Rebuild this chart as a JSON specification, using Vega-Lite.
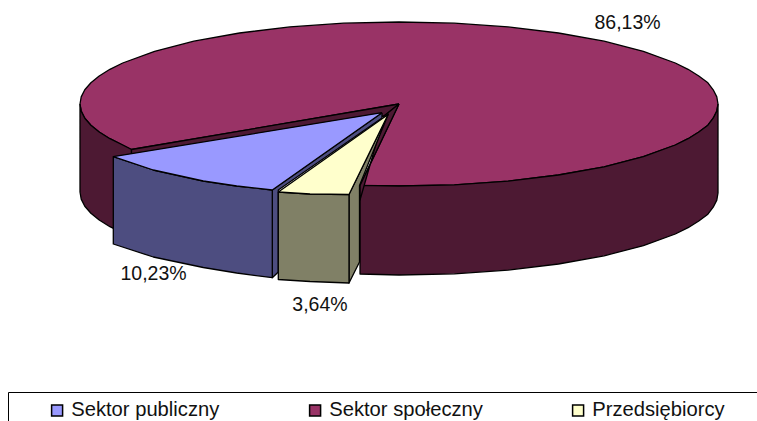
{"$schema":"https://vega.github.io/schema/vega-lite/v6.json","width":757,"height":421,"padding":0,"autosize":{"type":"none"},"background":"white","view":{"stroke":null},"config":{"font":"Liberation Sans"},
"datasets":{"faces":[
{"f":"Sektor społeczny","n":0,"x":399,"y":104},{"f":"Sektor społeczny","n":1,"x":131.5,"y":149.5},{"f":"Sektor społeczny","n":2,"x":122.7,"y":145},{"f":"Sektor społeczny","n":2.5,"x":109.9,"y":138.7},{"f":"Sektor społeczny","n":3,"x":99.2,"y":132},{"f":"Sektor społeczny","n":3.5,"x":90.9,"y":125.2},{"f":"Sektor społeczny","n":4,"x":84.8,"y":118.2},{"f":"Sektor społeczny","n":4.5,"x":81.2,"y":111.1},{"f":"Sektor społeczny","n":5,"x":80,"y":104},{"f":"Sektor społeczny","n":5.5,"x":81.2,"y":96.9},{"f":"Sektor społeczny","n":6,"x":84.8,"y":89.8},{"f":"Sektor społeczny","n":6.5,"x":90.9,"y":82.8},{"f":"Sektor społeczny","n":7,"x":99.2,"y":76},{"f":"Sektor społeczny","n":7.5,"x":109.9,"y":69.3},{"f":"Sektor społeczny","n":8,"x":122.7,"y":63},{"f":"Sektor społeczny","n":9,"x":154.6,"y":51.3},{"f":"Sektor społeczny","n":10,"x":193.9,"y":41.2},{"f":"Sektor społeczny","n":11,"x":239.5,"y":33},{"f":"Sektor społeczny","n":12,"x":289.9,"y":26.9},{"f":"Sektor społeczny","n":13,"x":343.6,"y":23.2},{"f":"Sektor społeczny","n":14,"x":399,"y":22},{"f":"Sektor społeczny","n":15,"x":454.4,"y":23.2},{"f":"Sektor społeczny","n":16,"x":508.1,"y":26.9},{"f":"Sektor społeczny","n":17,"x":558.5,"y":33},{"f":"Sektor społeczny","n":18,"x":604.1,"y":41.2},{"f":"Sektor społeczny","n":19,"x":643.4,"y":51.3},{"f":"Sektor społeczny","n":20,"x":675.3,"y":63},{"f":"Sektor społeczny","n":20.5,"x":688.1,"y":69.3},{"f":"Sektor społeczny","n":21,"x":698.8,"y":76},{"f":"Sektor społeczny","n":21.5,"x":707.9,"y":82.8},{"f":"Sektor społeczny","n":22,"x":713.2,"y":89.8},{"f":"Sektor społeczny","n":22.5,"x":716.8,"y":96.9},{"f":"Sektor społeczny","n":23,"x":718,"y":104},{"f":"Sektor społeczny","n":23.5,"x":716.8,"y":111.1},{"f":"Sektor społeczny","n":24,"x":713.2,"y":118.2},{"f":"Sektor społeczny","n":24.5,"x":707.9,"y":125.2},{"f":"Sektor społeczny","n":25,"x":698.8,"y":132},{"f":"Sektor społeczny","n":25.5,"x":688.1,"y":138.7},{"f":"Sektor społeczny","n":26,"x":675.3,"y":145},{"f":"Sektor społeczny","n":27,"x":643.4,"y":156.7},{"f":"Sektor społeczny","n":28,"x":604.1,"y":166.8},{"f":"Sektor społeczny","n":29,"x":558.5,"y":175},{"f":"Sektor społeczny","n":30,"x":508.1,"y":181.1},{"f":"Sektor społeczny","n":31,"x":454.4,"y":184.8},{"f":"Sektor społeczny","n":32,"x":399,"y":186},{"f":"Sektor społeczny","n":33,"x":360,"y":185.4},{"f":"Sektor społeczny","n":34,"x":399,"y":104},
{"f":"Społeczny bok prawy","n":0,"x":718,"y":104},{"f":"Społeczny bok prawy","n":0.5,"x":716.8,"y":111.1},{"f":"Społeczny bok prawy","n":1,"x":713.2,"y":118.2},{"f":"Społeczny bok prawy","n":1.5,"x":707.9,"y":125.2},{"f":"Społeczny bok prawy","n":2,"x":698.8,"y":132},{"f":"Społeczny bok prawy","n":2.5,"x":688.1,"y":138.7},{"f":"Społeczny bok prawy","n":3,"x":675.3,"y":145},{"f":"Społeczny bok prawy","n":4,"x":643.4,"y":156.7},{"f":"Społeczny bok prawy","n":5,"x":604.1,"y":166.8},{"f":"Społeczny bok prawy","n":6,"x":558.5,"y":175},{"f":"Społeczny bok prawy","n":7,"x":508.1,"y":181.1},{"f":"Społeczny bok prawy","n":8,"x":454.4,"y":184.8},{"f":"Społeczny bok prawy","n":9,"x":399,"y":186},{"f":"Społeczny bok prawy","n":10,"x":360,"y":185.4},{"f":"Społeczny bok prawy","n":11,"x":360,"y":274},{"f":"Społeczny bok prawy","n":12,"x":399,"y":275},{"f":"Społeczny bok prawy","n":13,"x":454.4,"y":273.8},{"f":"Społeczny bok prawy","n":14,"x":508.1,"y":270.1},{"f":"Społeczny bok prawy","n":15,"x":558.5,"y":264},{"f":"Społeczny bok prawy","n":16,"x":604.1,"y":255.8},{"f":"Społeczny bok prawy","n":17,"x":643.4,"y":245.7},{"f":"Społeczny bok prawy","n":18,"x":675.3,"y":234},{"f":"Społeczny bok prawy","n":18.5,"x":688.1,"y":227.7},{"f":"Społeczny bok prawy","n":19,"x":698.8,"y":221},{"f":"Społeczny bok prawy","n":19.5,"x":707.9,"y":214.2},{"f":"Społeczny bok prawy","n":20,"x":713.2,"y":207.2},{"f":"Społeczny bok prawy","n":20.5,"x":716.8,"y":200.1},{"f":"Społeczny bok prawy","n":21,"x":718,"y":193},{"f":"Społeczny bok prawy","n":22,"x":718,"y":104},
{"f":"Społeczny bok lewy","n":0,"x":80,"y":104},{"f":"Społeczny bok lewy","n":0.5,"x":81.2,"y":111.1},{"f":"Społeczny bok lewy","n":1,"x":84.8,"y":118.2},{"f":"Społeczny bok lewy","n":1.5,"x":90.9,"y":125.2},{"f":"Społeczny bok lewy","n":2,"x":99.2,"y":132},{"f":"Społeczny bok lewy","n":2.5,"x":109.9,"y":138.7},{"f":"Społeczny bok lewy","n":3,"x":122.7,"y":145},{"f":"Społeczny bok lewy","n":4,"x":131.5,"y":149.5},{"f":"Społeczny bok lewy","n":5,"x":131.5,"y":240},{"f":"Społeczny bok lewy","n":6,"x":122.7,"y":233},{"f":"Społeczny bok lewy","n":6.5,"x":109.9,"y":226.7},{"f":"Społeczny bok lewy","n":7,"x":99.2,"y":220},{"f":"Społeczny bok lewy","n":7.5,"x":90.9,"y":213.2},{"f":"Społeczny bok lewy","n":8,"x":84.8,"y":206.2},{"f":"Społeczny bok lewy","n":8.5,"x":81.2,"y":199.1},{"f":"Społeczny bok lewy","n":9,"x":80,"y":192},{"f":"Społeczny bok lewy","n":10,"x":80,"y":104},
{"f":"Społeczny ścianka górna","n":0,"x":399,"y":104},{"f":"Społeczny ścianka górna","n":1,"x":131.5,"y":149.5},{"f":"Społeczny ścianka górna","n":2,"x":131.5,"y":160},{"f":"Społeczny ścianka górna","n":3,"x":384,"y":116},{"f":"Społeczny ścianka górna","n":4,"x":399,"y":104},
{"f":"Społeczny ścianka dolna","n":0,"x":399,"y":104},{"f":"Społeczny ścianka dolna","n":1,"x":360,"y":185.4},{"f":"Społeczny ścianka dolna","n":2,"x":360,"y":200},{"f":"Społeczny ścianka dolna","n":3,"x":384,"y":116},{"f":"Społeczny ścianka dolna","n":4,"x":399,"y":104},
{"f":"Publiczny ścianka","n":0,"x":382,"y":112.7},{"f":"Publiczny ścianka","n":1,"x":272.3,"y":190},{"f":"Publiczny ścianka","n":2,"x":272.3,"y":277.7},{"f":"Publiczny ścianka","n":3,"x":278.3,"y":272},{"f":"Publiczny ścianka","n":4,"x":278.3,"y":190},{"f":"Publiczny ścianka","n":5,"x":382,"y":118},{"f":"Publiczny ścianka","n":6,"x":382,"y":112.7},
{"f":"Publiczny bok","n":0,"x":113.3,"y":156.7},{"f":"Publiczny bok","n":1,"x":153.3,"y":170},{"f":"Publiczny bok","n":2,"x":203.3,"y":181},{"f":"Publiczny bok","n":3,"x":236.7,"y":186},{"f":"Publiczny bok","n":4,"x":272.3,"y":190},{"f":"Publiczny bok","n":5,"x":272.3,"y":277.7},{"f":"Publiczny bok","n":6,"x":236.7,"y":273},{"f":"Publiczny bok","n":7,"x":203.3,"y":267.5},{"f":"Publiczny bok","n":8,"x":153.3,"y":257},{"f":"Publiczny bok","n":9,"x":113.3,"y":244},{"f":"Publiczny bok","n":10,"x":113.3,"y":156.7},
{"f":"Sektor publiczny","n":0,"x":382,"y":112.7},{"f":"Sektor publiczny","n":1,"x":113.3,"y":156.7},{"f":"Sektor publiczny","n":2,"x":153.3,"y":170},{"f":"Sektor publiczny","n":3,"x":203.3,"y":181},{"f":"Sektor publiczny","n":4,"x":236.7,"y":186},{"f":"Sektor publiczny","n":5,"x":272.3,"y":190},{"f":"Sektor publiczny","n":6,"x":382,"y":112.7},
{"f":"Przedsiębiorcy ścianka","n":0,"x":388.3,"y":114},{"f":"Przedsiębiorcy ścianka","n":1,"x":349,"y":194.5},{"f":"Przedsiębiorcy ścianka","n":2,"x":349,"y":283},{"f":"Przedsiębiorcy ścianka","n":3,"x":359.5,"y":262},{"f":"Przedsiębiorcy ścianka","n":4,"x":359.5,"y":185.4},{"f":"Przedsiębiorcy ścianka","n":5,"x":388.3,"y":114},
{"f":"Przedsiębiorcy bok","n":0,"x":278.3,"y":192},{"f":"Przedsiębiorcy bok","n":1,"x":310,"y":194},{"f":"Przedsiębiorcy bok","n":2,"x":349,"y":194.5},{"f":"Przedsiębiorcy bok","n":3,"x":349,"y":283},{"f":"Przedsiębiorcy bok","n":4,"x":310,"y":281.5},{"f":"Przedsiębiorcy bok","n":5,"x":278.3,"y":279.5},{"f":"Przedsiębiorcy bok","n":6,"x":278.3,"y":192},
{"f":"Przedsiębiorcy","n":0,"x":386,"y":116},{"f":"Przedsiębiorcy","n":1,"x":278.3,"y":192},{"f":"Przedsiębiorcy","n":2,"x":310,"y":194},{"f":"Przedsiębiorcy","n":3,"x":349,"y":194.5},{"f":"Przedsiębiorcy","n":4,"x":388.3,"y":114},{"f":"Przedsiębiorcy","n":5,"x":386,"y":116}
],
"labels":[{"t":"86,13%","share":86.13,"x":627.5,"y":23},{"t":"10,23%","share":10.23,"x":153.5,"y":274},{"t":"3,64%","share":3.64,"x":320,"y":305}],
"frame":[{"x":8.5,"x2":757,"y":392.5,"y2":392.5},{"x":8.5,"x2":8.5,"y":392.5,"y2":421}]},
"layer":[
{"data":{"name":"frame"},"mark":{"type":"rule","color":"black","strokeWidth":1},
"encoding":{"x":{"field":"x","type":"quantitative","scale":{"domain":[0,757],"nice":false,"zero":false},"axis":null},"x2":{"field":"x2"},
"y":{"field":"y","type":"quantitative","scale":{"domain":[421,0],"nice":false,"zero":false},"axis":null},"y2":{"field":"y2"}}},
{"data":{"name":"faces"},"mark":{"type":"line","filled":true,"stroke":"black","strokeWidth":1.3,"strokeJoin":"round"},
"encoding":{"x":{"field":"x","type":"quantitative"},
"y":{"field":"y","type":"quantitative"},
"order":{"field":"n","type":"quantitative"},
"fill":{"field":"f","type":"nominal","scale":{"domain":["Sektor publiczny","Sektor społeczny","Przedsiębiorcy","Społeczny bok prawy","Społeczny bok lewy","Społeczny ścianka górna","Społeczny ścianka dolna","Publiczny ścianka","Publiczny bok","Przedsiębiorcy ścianka","Przedsiębiorcy bok"],"range":["#9999FF","#993366","#FFFFCC","#4D1933","#4D1933","#4D1933","#4D1933","#4D4D80","#4D4D80","#808066","#808066"]},
"legend":{"values":["Sektor publiczny","Sektor społeczny","Przedsiębiorcy"],"orient":"none","legendX":47,"legendY":400,"direction":"horizontal","columns":3,"columnPadding":85,"title":null,"padding":0,"symbolType":"square","symbolSize":121,"labelFont":"Liberation Sans","labelFontSize":20.2,"labelColor":"#111","labelOffset":4,"offset":0,"encode":{"symbols":{"update":{"stroke":{"value":"black"},"strokeWidth":{"value":1}}}}}}}},
{"data":{"name":"labels"},"mark":{"type":"text","font":"Liberation Sans","fontSize":19.5,"color":"#111","align":"center","baseline":"middle"},
"encoding":{"x":{"field":"x","type":"quantitative"},"y":{"field":"y","type":"quantitative"},"text":{"field":"t","type":"nominal"}}}
]}
